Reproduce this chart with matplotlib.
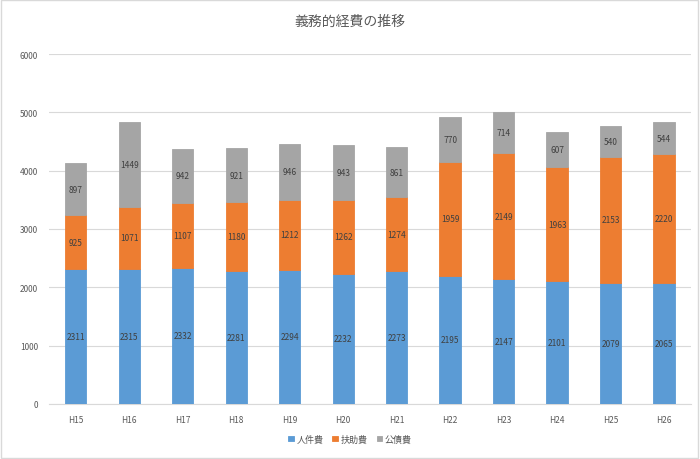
import numpy as np
import matplotlib.pyplot as plt
from matplotlib.patches import Rectangle

plt.rcParams['font.family'] = ['Noto Sans CJK JP', 'DejaVu Sans']

# Data
years = ["H15", "H16", "H17", "H18", "H19", "H20", "H21", "H22", "H23", "H24", "H25", "H26"]
jinkenhi = [2311, 2315, 2332, 2281, 2294, 2232, 2273, 2195, 2147, 2101, 2079, 2065]
fujohi = [925, 1071, 1107, 1180, 1212, 1262, 1274, 1959, 2149, 1963, 2153, 2220]
kousaihi = [897, 1449, 942, 921, 946, 943, 861, 770, 714, 607, 540, 544]
series_names = ["人件費", "扶助費", "公債費"]
colors = ["#5B9BD5", "#ED7D31", "#A5A5A5"]
text_color = "#595959"

fig = plt.figure(figsize=(7, 4.6), dpi=100)
ax = fig.add_axes([0.07, 0.12, 0.917, 0.76])

x = np.arange(len(years))
bottom = np.zeros(len(years))
handles = []
for vals, name, col in zip([jinkenhi, fujohi, kousaihi], series_names, colors):
    vals = np.array(vals)
    b = ax.bar(x, vals, width=0.4, bottom=bottom, color=col, label=name,
               edgecolor=col, linewidth=0.6, zorder=3)
    handles.append(b)
    for xi, v, bt in zip(x, vals, bottom):
        ax.text(xi, bt + v / 2, str(v), ha='center', va='center',
                fontsize=6, color="#404040", zorder=4)
    bottom += vals

ax.set_xlim(-0.5, len(years) - 0.5)
ax.set_ylim(0, 6000)
ax.set_yticks(np.arange(0, 6001, 1000))
ax.set_xticks(x)
ax.set_xticklabels(years)
ax.tick_params(axis='both', length=0, labelsize=6, colors=text_color, pad=8)
ax.yaxis.grid(True, color="#D9D9D9", linewidth=0.8, zorder=0)
for s in ["top", "right", "left"]:
    ax.spines[s].set_visible(False)
ax.spines["bottom"].set_color("#D9D9D9")

fig.text(0.5, 0.952, "義務的経費の推移", ha='center', va='center',
         fontsize=10, color=text_color)

fig.legend(handles=handles, labels=series_names, loc='center',
           bbox_to_anchor=(0.5, 0.043), ncol=3, frameon=False, fontsize=6.5,
           handlelength=0.6, handleheight=0.6, handletextpad=0.3, columnspacing=1.0,
           labelcolor=text_color)

# figure border
fig.patches.append(Rectangle((0.002, 0.003), 0.995, 0.994, transform=fig.transFigure,
                             fill=False, edgecolor="#D9D9D9", linewidth=1))

fig.savefig("out.png", dpi=100)
